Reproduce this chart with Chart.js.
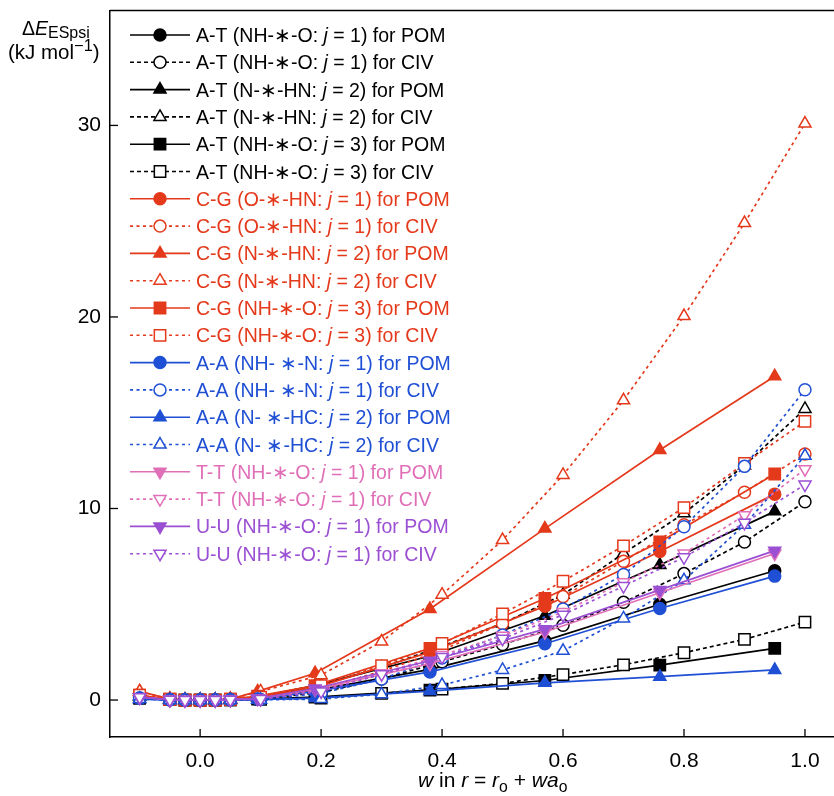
<!DOCTYPE html>
<html>
<head>
<meta charset="utf-8">
<script src="https://cdn.jsdelivr.net/npm/chart.js@4/dist/chart.umd.min.js"></script>
<style>
  html, body { margin: 0; padding: 0; background: #ffffff; }
  canvas { display: block; }
</style>
</head>
<body>
<canvas id="chart" width="834" height="796"></canvas>
<script>
// Sampling positions of the weight w for the two schemes
const xPOM = [-0.1, -0.05, -0.025, 0, 0.025, 0.05, 0.095, 0.19, 0.38, 0.57, 0.76, 0.95];
const xCIV = [-0.1, -0.05, -0.025, 0, 0.025, 0.05, 0.1, 0.2, 0.3, 0.4, 0.5, 0.6, 0.7, 0.8, 0.9, 1.0];

// ΔE_ESpsi (kJ/mol) per base pair, bond j and scheme
const atJ1POM = [0.15, 0.02, 0, 0, 0, 0.02, 0.1, 0.5, 1.6, 3.1, 5.0, 6.75];
const atJ1CIV = [0.15, 0.02, 0, 0, 0, 0.02, 0.05, 0.4, 1.1, 2.0, 2.9, 3.9, 5.1, 6.6, 8.25, 10.35];
const atJ2POM = [0.2, 0.03, 0, 0, 0, 0.03, 0.15, 0.75, 2.3, 4.4, 7.05, 9.85];
const atJ2CIV = [0.2, 0.03, 0, 0, 0, 0.03, 0.2, 0.8, 1.7, 2.8, 4.0, 5.5, 7.65, 9.75, 12.25, 15.2];
const atJ3POM = [0.1, 0.02, 0, 0, 0, 0.01, 0.05, 0.15, 0.52, 1.02, 1.82, 2.7];
const atJ3CIV = [0.1, 0.02, 0, 0, 0, 0.01, 0.03, 0.1, 0.35, 0.57, 0.87, 1.33, 1.84, 2.47, 3.17, 4.07];
const cgJ1POM = [0.2, 0.03, 0, 0, 0, 0.03, 0.15, 0.65, 2.5, 4.9, 7.75, 10.75];
const cgJ1CIV = [0.2, 0.03, 0, 0, 0, 0.03, 0.1, 0.6, 1.5, 2.6, 4.0, 5.4, 7.25, 9.15, 10.85, 12.85];
const cgJ2POM = [0.45, 0.05, 0, 0, 0, 0.05, 0.45, 1.4, 4.75, 8.95, 13.05, 16.9];
const cgJ2CIV = [0.45, 0.05, 0, 0, 0, 0.05, 0.45, 1.3, 3.05, 5.5, 8.35, 11.75, 15.65, 20.05, 24.9, 30.1];
const cgJ3POM = [0.25, 0.04, 0, 0, 0, 0.04, 0.2, 0.75, 2.7, 5.3, 8.25, 11.8];
const cgJ3CIV = [0.25, 0.04, 0, 0, 0, 0.04, 0.15, 0.75, 1.8, 2.95, 4.5, 6.2, 8.05, 10.05, 12.35, 14.55];
const aaJ1POM = [0.1, 0.01, 0, 0, 0, 0.01, 0.05, 0.45, 1.47, 2.94, 4.78, 6.47];
const aaJ1CIV = [0.1, 0.01, 0, 0, 0, 0.01, 0.03, 0.35, 1.1, 2.2, 3.4, 4.75, 6.55, 9.05, 12.2, 16.2];
const aaJ2POM = [0.05, 0, 0, 0, 0, 0, 0.02, 0.1, 0.47, 0.9, 1.22, 1.57];
const aaJ2CIV = [0.05, 0, 0, 0, 0, 0, 0.01, 0.05, 0.3, 0.78, 1.57, 2.57, 4.26, 6.25, 9.15, 12.75];
const ttPOM = [0.15, 0.02, 0, 0, 0, 0.02, 0.08, 0.55, 1.9, 3.55, 5.6, 7.65];
const ttCIV = [0.15, 0.02, 0, 0, 0, 0.02, 0.05, 0.5, 1.4, 2.35, 3.35, 4.6, 6.15, 7.65, 9.65, 12.05];
const uuPOM = [0.15, 0.02, 0, 0, 0, 0.02, 0.08, 0.6, 2.05, 3.7, 5.75, 7.8];
const uuCIV = [0.15, 0.02, 0, 0, 0, 0.02, 0.05, 0.45, 1.35, 2.25, 3.2, 4.45, 5.95, 7.45, 9.25, 11.25];

// Axis ticks
const xTicks = [0.0, 0.2, 0.4, 0.6, 0.8, 1.0];
const yTicks = [0, 10, 20, 30];

const FONT = '"Liberation Sans", Arial, Helvetica, sans-serif';
const COLOR = {
  black: '#000000',
  red: '#e4391b',
  blue: '#1f4fd4',
  pink: '#e06fb8',
  purple: '#9b4fd3'
};

// Legend text uses |j| to mark the italic bond index
const series = [
  { label: 'A-T (NH-∗-O: |j| = 1) for POM', x: xPOM, y: atJ1POM, color: 'black', marker: 'circle', filled: true, dashed: false },
  { label: 'A-T (NH-∗-O: |j| = 1) for CIV', x: xCIV, y: atJ1CIV, color: 'black', marker: 'circle', filled: false, dashed: true },
  { label: 'A-T (N-∗-HN: |j| = 2) for POM', x: xPOM, y: atJ2POM, color: 'black', marker: 'triangle', filled: true, dashed: false },
  { label: 'A-T (N-∗-HN: |j| = 2) for CIV', x: xCIV, y: atJ2CIV, color: 'black', marker: 'triangle', filled: false, dashed: true },
  { label: 'A-T (NH-∗-O: |j| = 3) for POM', x: xPOM, y: atJ3POM, color: 'black', marker: 'rect', filled: true, dashed: false },
  { label: 'A-T (NH-∗-O: |j| = 3) for CIV', x: xCIV, y: atJ3CIV, color: 'black', marker: 'rect', filled: false, dashed: true },
  { label: 'C-G (O-∗-HN: |j| = 1) for POM', x: xPOM, y: cgJ1POM, color: 'red', marker: 'circle', filled: true, dashed: false },
  { label: 'C-G (O-∗-HN: |j| = 1) for CIV', x: xCIV, y: cgJ1CIV, color: 'red', marker: 'circle', filled: false, dashed: true },
  { label: 'C-G (N-∗-HN: |j| = 2) for POM', x: xPOM, y: cgJ2POM, color: 'red', marker: 'triangle', filled: true, dashed: false },
  { label: 'C-G (N-∗-HN: |j| = 2) for CIV', x: xCIV, y: cgJ2CIV, color: 'red', marker: 'triangle', filled: false, dashed: true },
  { label: 'C-G (NH-∗-O: |j| = 3) for POM', x: xPOM, y: cgJ3POM, color: 'red', marker: 'rect', filled: true, dashed: false },
  { label: 'C-G (NH-∗-O: |j| = 3) for CIV', x: xCIV, y: cgJ3CIV, color: 'red', marker: 'rect', filled: false, dashed: true },
  { label: 'A-A (NH- ∗-N: |j| = 1) for POM', x: xPOM, y: aaJ1POM, color: 'blue', marker: 'circle', filled: true, dashed: false },
  { label: 'A-A (NH- ∗-N: |j| = 1) for CIV', x: xCIV, y: aaJ1CIV, color: 'blue', marker: 'circle', filled: false, dashed: true },
  { label: 'A-A (N- ∗-HC: |j| = 2) for POM', x: xPOM, y: aaJ2POM, color: 'blue', marker: 'triangle', filled: true, dashed: false },
  { label: 'A-A (N- ∗-HC: |j| = 2) for CIV', x: xCIV, y: aaJ2CIV, color: 'blue', marker: 'triangle', filled: false, dashed: true },
  { label: 'T-T (NH-∗-O: |j| = 1) for POM', x: xPOM, y: ttPOM, color: 'pink', marker: 'down', filled: true, dashed: false },
  { label: 'T-T (NH-∗-O: |j| = 1) for CIV', x: xCIV, y: ttCIV, color: 'pink', marker: 'down', filled: false, dashed: true },
  { label: 'U-U (NH-∗-O: |j| = 1) for POM', x: xPOM, y: uuPOM, color: 'purple', marker: 'down', filled: true, dashed: false },
  { label: 'U-U (NH-∗-O: |j| = 1) for CIV', x: xCIV, y: uuCIV, color: 'purple', marker: 'down', filled: false, dashed: true }
];

const MARKER_RADIUS = { circle: 6, triangle: 7, down: 7, rect: 8 };

function dashFor(s) {
  if (!s.dashed) return [];
  return s.color === 'black' ? [4, 3] : [3, 3.5];
}

const datasets = series.map((s, i) => {
  const c = COLOR[s.color];
  return {
    label: s.label.replace(/\|/g, ''),
    data: s.x.map((xv, k) => ({ x: xv, y: s.y[k] })),
    showLine: true,
    borderColor: c,
    borderWidth: 1.7,
    borderDash: dashFor(s),
    backgroundColor: s.filled ? c : '#ffffff',
    pointBackgroundColor: s.filled ? c : '#ffffff',
    pointBorderColor: c,
    pointBorderWidth: 1.5,
    pointStyle: s.marker === 'down' ? 'triangle' : s.marker,
    pointRotation: s.marker === 'down' ? 180 : 0,
    pointRadius: MARKER_RADIUS[s.marker],
    pointHoverRadius: MARKER_RADIUS[s.marker],
    tension: 0,
    order: series.length - i
  };
});

// Marker shapes for the legend samples (same geometry as the plotted points)
function drawMarker(ctx, s, x, y) {
  const c = COLOR[s.color];
  const r = MARKER_RADIUS[s.marker];
  ctx.save();
  ctx.setLineDash([]);
  ctx.beginPath();
  if (s.marker === 'circle') {
    ctx.arc(x, y, r, 0, Math.PI * 2);
  } else if (s.marker === 'rect') {
    const h = r / Math.SQRT2;
    ctx.rect(x - h, y - h, 2 * h, 2 * h);
  } else {
    let a = s.marker === 'down' ? Math.PI : 0;
    for (let k = 0; k < 3; k++) {
      const px = x + Math.sin(a) * r, py = y - Math.cos(a) * r;
      if (k === 0) ctx.moveTo(px, py); else ctx.lineTo(px, py);
      a += 2 * Math.PI / 3;
    }
    ctx.closePath();
  }
  ctx.fillStyle = s.filled ? c : '#ffffff';
  ctx.fill();
  ctx.lineWidth = 1.5;
  ctx.strokeStyle = c;
  ctx.stroke();
  ctx.restore();
}

// Draws a run of text pieces; style: n normal, i italic, sub subscript, sup superscript
function drawRich(ctx, parts, x, y, size, color, subScale, subDrop) {
  const k = subScale || 0.72;
  const drop = subDrop === undefined ? 0.25 : subDrop;
  ctx.save();
  ctx.fillStyle = color;
  ctx.textBaseline = 'alphabetic';
  ctx.textAlign = 'left';
  let cx = x;
  for (const [text, style] of parts) {
    let fs = size, dy = 0, it = false;
    if (style === 'i') it = true;
    if (style === 'sub') { fs = size * k; dy = size * drop; }
    if (style === 'sup') { fs = size * k; dy = -size * 0.4; }
    ctx.font = (it ? 'italic ' : '') + fs + 'px ' + FONT;
    ctx.fillText(text, cx, y + dy);
    cx += ctx.measureText(text).width;
  }
  ctx.restore();
  return cx;
}

const LEGEND = { x0: 130, x1: 190, mx: 160, tx: 196, y0: 35, dy: 27.3, size: 19.5 };

const decorations = {
  id: 'decorations',
  afterDraw(chart) {
    const { ctx, chartArea: a, scales } = chart;
    ctx.save();
    // frame line along the top of the plot
    ctx.strokeStyle = '#000';
    ctx.lineWidth = 1.5;
    ctx.beginPath();
    ctx.moveTo(a.left, a.top);
    ctx.lineTo(a.right, a.top);
    ctx.stroke();
    // inward tick marks
    ctx.lineWidth = 1.3;
    for (const v of yTicks) {
      const py = scales.y.getPixelForValue(v);
      ctx.beginPath(); ctx.moveTo(a.left, py); ctx.lineTo(a.left + 8, py); ctx.stroke();
    }
    for (const v of xTicks) {
      const px = scales.x.getPixelForValue(v);
      ctx.beginPath(); ctx.moveTo(px, a.bottom); ctx.lineTo(px, a.bottom - 8); ctx.stroke();
    }
    ctx.restore();

    // legend
    series.forEach((s, i) => {
      const y = LEGEND.y0 + i * LEGEND.dy;
      const c = COLOR[s.color];
      ctx.save();
      ctx.strokeStyle = c;
      ctx.lineWidth = 1.6;
      ctx.setLineDash(dashFor(s));
      ctx.beginPath(); ctx.moveTo(LEGEND.x0, y); ctx.lineTo(LEGEND.x1, y); ctx.stroke();
      ctx.restore();
      drawMarker(ctx, s, LEGEND.mx, y);
      const parts = s.label.split('|').map((t, k) => [t, k % 2 ? 'i' : 'n']);
      drawRich(ctx, parts, LEGEND.tx, y + 7, LEGEND.size, c);
    });

    // axis titles
    drawRich(ctx, [['Δ', 'n'], ['E', 'i'], ['ESpsi', 'sub']], 22, 35, 19.5, '#000', 0.82, 0.13);
    drawRich(ctx, [['(kJ mol', 'n'], ['−1', 'sup'], [')', 'n']], 8, 59, 20.5, '#000', 0.8);
    drawRich(ctx, [['w', 'i'], [' in ', 'n'], ['r', 'i'], [' = ', 'n'], ['r', 'i'], ['o', 'sub'],
                   [' + ', 'n'], ['wa', 'i'], ['o', 'sub']], 418, 787, 21, '#000', 0.75);
  }
};

new Chart(document.getElementById('chart'), {
  type: 'scatter',
  data: { datasets },
  options: {
    responsive: false,
    animation: false,
    devicePixelRatio: 1,
    layout: { autoPadding: false, padding: { top: 10.5, right: 0, left: 0, bottom: 0 } },
    plugins: { legend: { display: false }, tooltip: { enabled: false } },
    scales: {
      x: {
        type: 'linear',
        min: -0.149,
        max: 1.048,
        afterBuildTicks: (s) => { s.ticks = xTicks.map(v => ({ value: v })); },
        afterFit: (s) => { s.height = 59; s.paddingLeft = 0; s.paddingRight = 0; },
        grid: { display: false, drawTicks: false },
        border: { display: true, color: '#000', width: 1.5 },
        ticks: {
          color: '#000',
          font: { family: FONT, size: 21 },
          padding: 12,
          maxRotation: 0,
          callback: (v) => Number(v).toFixed(1)
        }
      },
      y: {
        type: 'linear',
        min: -1.93,
        max: 36.0,
        afterBuildTicks: (s) => { s.ticks = yTicks.map(v => ({ value: v })); },
        afterFit: (s) => { s.width = 110; s.paddingTop = 0; s.paddingBottom = 0; },
        grid: { display: false, drawTicks: false },
        border: { display: true, color: '#000', width: 1.5 },
        ticks: {
          color: '#000',
          font: { family: FONT, size: 21 },
          padding: 9,
          callback: (v) => String(v)
        }
      }
    }
  },
  plugins: [decorations]
});
</script>
</body>
</html>
